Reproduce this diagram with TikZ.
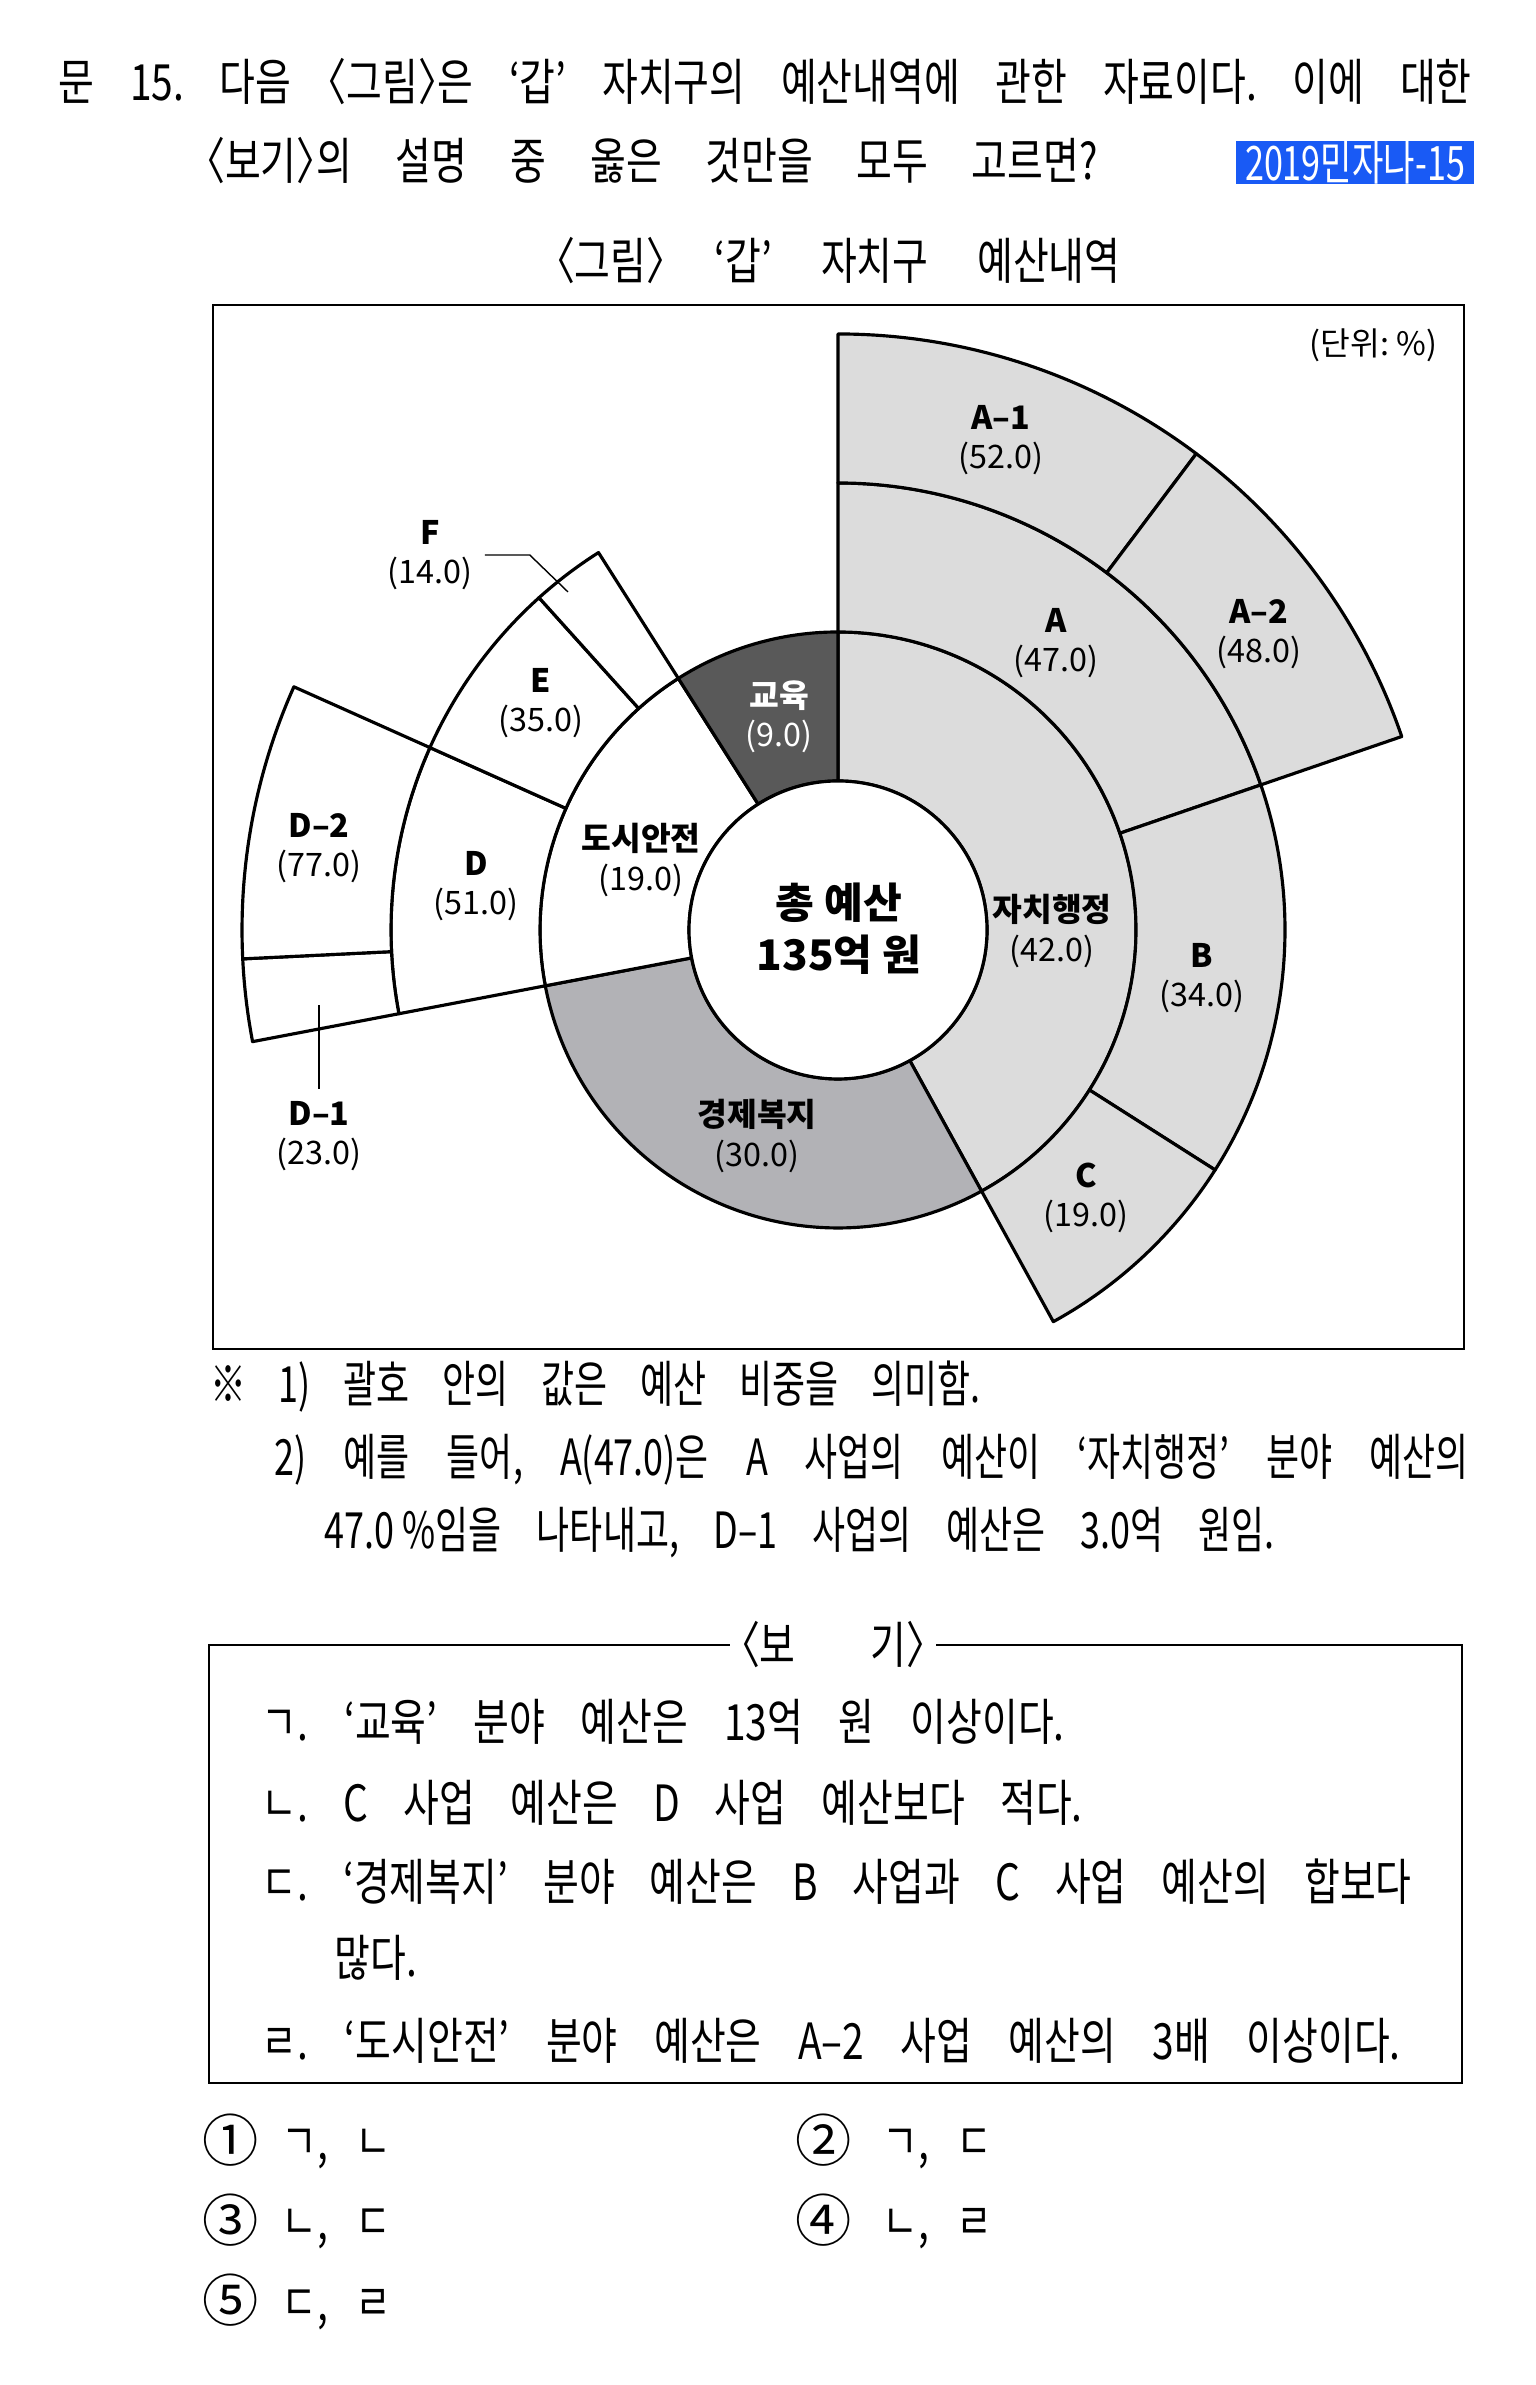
\documentclass[tikz,border=0pt]{standalone}
\usepackage{fontspec}
\setmainfont{Noto Sans CJK KR}
\newfontfamily\bodyfont[FakeStretch=0.78,RawFeature={+halt}]{Noto Sans CJK KR}
\newfontfamily\notefont[FakeStretch=0.72,RawFeature={+halt}]{Noto Sans CJK KR}
\newfontfamily\tagfont[FakeStretch=0.72]{Noto Sans CJK KR}
\definecolor{lightg}{RGB}{220,220,220}
\definecolor{midg}{RGB}{178,178,182}
\definecolor{darkg}{RGB}{89,89,89}
\definecolor{tagblue}{RGB}{25,90,245}
\newcommand{\ring}[5]{\draw[sector,fill=#1] (#2:#4) arc[start angle=#2,end angle=#3,radius=#4] -- (#3:#5) arc[start angle=#3,end angle=#2,radius=#5] -- cycle;}
\tikzset{
  sector/.style={line width=0.9pt, line join=round},
  lbl/.style={align=center, font=\fontsize{9.2}{11.2}\selectfont},
  bodytext/.style={anchor=base west, inner sep=0pt, font=\bodyfont\fontsize{14.2}{17}\selectfont},
  notetext/.style={anchor=base west, inner sep=0pt, font=\notefont\fontsize{14.2}{17}\selectfont},
  numtext/.style={anchor=base west, inner sep=0pt, font=\fontsize{16}{16}\selectfont},
  frameline/.style={line width=0.6pt},
  leader/.style={line width=0.4pt}
}
\begin{document}
\frenchspacing
\begin{tikzpicture}
  \useasboundingbox (0,0) rectangle (15.35,23.85);
  \node[bodytext] (q1) at (0.58,22.84) {\makebox[14.13cm][s]{문 15. 다음 〈그림〉은 ‘갑’ 자치구의 예산내역에 관한 자료이다. 이에 대한}};
  \node[bodytext] (q2) at (2.05,22.05) {\makebox[8.92cm][s]{〈보기〉의 설명 중 옳은 것만을 모두 고르면?}};
  \node[fill=tagblue, text=white, minimum width=2.38cm, minimum height=0.43cm, inner sep=0pt, font=\tagfont\fontsize{13.5}{14}\selectfont] (tag) at (13.55,22.225) {2019민자나-15};
  \node[bodytext, anchor=base] (cap) at (8.38,21.05) {\makebox[5.65cm][s]{〈그림〉 ‘갑’ 자치구 예산내역}};
  \draw[frameline] (2.13,20.80) rectangle (14.64,10.36);
  \node[anchor=east, inner sep=0pt, font=\fontsize{9.2}{10}\selectfont] (unit) at (14.38,20.40) {(단위: \%)};
  \begin{scope}[shift={(8.38,14.55)}]
    \ring{lightg}{90}{-61.2}{1.49}{2.98}
    \ring{midg}{-61.2}{-169.2}{1.49}{2.98}
    \ring{white}{190.8}{122.4}{1.49}{2.98}
    \ring{darkg}{122.4}{90}{1.49}{2.98}
    \ring{lightg}{90}{18.94}{2.98}{4.47}
    \ring{lightg}{18.94}{-32.47}{2.98}{4.47}
    \ring{lightg}{-32.47}{-61.2}{2.98}{4.47}
    \ring{white}{190.8}{155.92}{2.98}{4.47}
    \ring{white}{155.92}{131.98}{2.98}{4.47}
    \ring{white}{131.98}{122.4}{2.98}{4.47}
    \ring{lightg}{90}{53.05}{4.47}{5.96}
    \ring{lightg}{53.05}{18.94}{4.47}{5.96}
    \ring{white}{190.8}{182.78}{4.47}{5.96}
    \ring{white}{182.78}{155.92}{4.47}{5.96}
    \draw[sector,fill=white] (0,0) circle[radius=1.49];
  \end{scope}
  \node[align=center, font=\bfseries\fontsize{12}{14.8}\selectfont] (total) at (8.39,14.56) {총 예산\\135억 원};
  \node[lbl] (a1) at (10.01,19.45) {\textbf{A–1}\\(52.0)};
  \node[lbl] (a2) at (12.59,17.51) {\textbf{A–2}\\(48.0)};
  \node[lbl] (a) at (10.56,17.42) {\textbf{A}\\(47.0)};
  \node[lbl, text=white] (edu) at (7.79,16.68) {\textbf{교육}\\(9.0)};
  \node[lbl] (admin) at (10.52,14.54) {\textbf{자치행정}\\(42.0)};
  \node[lbl] (b) at (12.02,14.07) {\textbf{B}\\(34.0)};
  \node[lbl] (c) at (10.86,11.87) {\textbf{C}\\(19.0)};
  \node[lbl] (econ) at (7.57,12.49) {\textbf{경제복지}\\(30.0)};
  \node[lbl] (safe) at (6.41,15.25) {\textbf{도시안전}\\(19.0)};
  \node[lbl] (d) at (4.76,14.99) {\textbf{D}\\(51.0)};
  \node[lbl] (d2) at (3.19,15.37) {\textbf{D–2}\\(77.0)};
  \node[lbl] (e) at (5.41,16.82) {\textbf{E}\\(35.0)};
  \node[lbl] (f) at (4.30,18.30) {\textbf{F}\\(14.0)};
  \node[lbl] (d1) at (3.19,12.49) {\textbf{D–1}\\(23.0)};
  \coordinate (fpt) at (5.68,17.93);
  \coordinate (d1pt) at (3.19,13.80);
  \draw[leader] (f.east) -- ++(0.45,0) -- (fpt);
  \draw[leader] (d1.north) -- (d1pt);
  \node[notetext] (mark) at (2.10,9.82) {※};
  \node[notetext] (n1) at (2.78,9.82) {\makebox[7.02cm][s]{1) 괄호 안의 값은 예산 비중을 의미함.}};
  \node[notetext] (n2) at (2.74,9.09) {\makebox[11.94cm][s]{2) 예를 들어, A(47.0)은 A 사업의 예산이 ‘자치행정’ 분야 예산의}};
  \node[notetext] (n3) at (3.24,8.36) {\makebox[9.50cm][s]{47.0\,\%임을 나타내고, D–1 사업의 예산은 3.0억 원임.}};
  \draw[frameline] (2.09,7.40) rectangle (14.62,3.02);
  \node[fill=white, inner xsep=3pt, inner ysep=0pt, font=\bodyfont\fontsize{14.2}{17}\selectfont] (bogi) at (8.33,7.40) {\makebox[1.85cm][s]{〈보 기〉}};
  \node[bodytext] (g1) at (2.61,6.44) {\makebox[8.03cm][s]{ㄱ. ‘교육’ 분야 예산은 13억 원 이상이다.}};
  \node[bodytext] (g2) at (2.61,5.63) {\makebox[8.21cm][s]{ㄴ. C 사업 예산은 D 사업 예산보다 적다.}};
  \node[bodytext] (g3) at (2.61,4.84) {\makebox[11.50cm][s]{ㄷ. ‘경제복지’ 분야 예산은 B 사업과 C 사업 예산의 합보다}};
  \node[bodytext] (g3b) at (3.34,4.08) {많다.};
  \node[bodytext] (g4) at (2.61,3.25) {\makebox[11.39cm][s]{ㄹ. ‘도시안전’ 분야 예산은 A–2 사업 예산의 3배 이상이다.}};
  \node[numtext] (c1) at (2.02,2.23) {①};
  \node[bodytext] (c1t) at (2.81,2.25) {\makebox[1.10cm][s]{ㄱ, ㄴ}};
  \node[numtext] (c2) at (7.95,2.23) {②};
  \node[bodytext] (c2t) at (8.82,2.25) {\makebox[1.10cm][s]{ㄱ, ㄷ}};
  \node[numtext] (c3) at (2.02,1.43) {③};
  \node[bodytext] (c3t) at (2.81,1.45) {\makebox[1.10cm][s]{ㄴ, ㄷ}};
  \node[numtext] (c4) at (7.95,1.43) {④};
  \node[bodytext] (c4t) at (8.82,1.45) {\makebox[1.10cm][s]{ㄴ, ㄹ}};
  \node[numtext] (c5) at (2.02,0.63) {⑤};
  \node[bodytext] (c5t) at (2.81,0.65) {\makebox[1.10cm][s]{ㄷ, ㄹ}};
\end{tikzpicture}
\end{document}
